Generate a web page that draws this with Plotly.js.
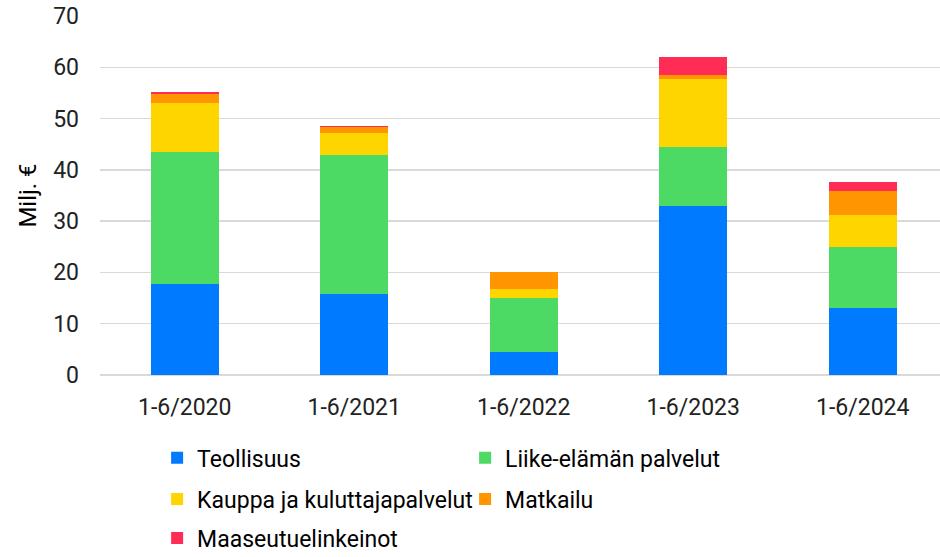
<!DOCTYPE html>
<html>
<head>
<meta charset="utf-8">
<script src="https://cdn.plot.ly/plotly-3.0.1.min.js"></script>
<style>
  body { margin: 0; background: #fff; }
  #chart { width: 940px; height: 557px; }
</style>
</head>
<body>
<div id="chart"></div>
<script>
var periods = ['1-6/2020', '1-6/2021', '1-6/2022', '1-6/2023', '1-6/2024'];

var teollisuus = [17.7, 15.7, 4.4, 33.0, 13.1];
var liike = [25.8, 27.2, 10.7, 11.5, 11.9];
var kauppa = [9.6, 4.3, 1.7, 13.3, 6.2];
var matkailu = [1.7, 1.2, 3.3, 0.7, 4.6];
var maaseutu = [0.3, 0.2, 0, 3.5, 1.9];

var names = ['Teollisuus', 'Liike-elämän palvelut', 'Kauppa ja kuluttajapalvelut', 'Matkailu', 'Maaseutuelinkeinot'];
var colors = ['rgb(0,122,255)', 'rgb(76,217,100)', 'rgb(255,213,0)', 'rgb(255,149,0)', 'rgb(255,45,85)'];
var legends = ['legend', 'legend', 'legend2', 'legend2', 'legend3'];
var series = [teollisuus, liike, kauppa, matkailu, maaseutu];

var data = series.map(function(vals, i){
	return {
		type: 'bar',
		x: periods,
		y: vals,
		name: names[i],
		marker: {color: colors[i]},
		legend: legends[i],
		hoverinfo: 'name+y'
	};
});

// one legend per row, placed by container fraction
function legendAt(y){
	return {
		orientation: 'h',
		traceorder: 'normal',
		x: 0.068, xref: 'paper', xanchor: 'left',
		y: y, yref: 'container', yanchor: 'middle',
		entrywidth: 263, entrywidthmode: 'pixels',
		font: {family: 'Roboto', size: 23, color: '#000'},
		itemwidth: 30,
		bgcolor: 'rgba(0,0,0,0)'
	};
}

var layout = {
	width: 940,
	height: 557,
	barmode: 'stack',
	bargap: 0.6,
	margin: {l: 100, r: 0, t: 16, b: 182},
	paper_bgcolor: '#fff',
	plot_bgcolor: '#fff',
	font: {family: 'Roboto', size: 23, color: '#222'},
	xaxis: {
		range: [-0.5, 4.456],
		showgrid: false,
		showline: false,
		ticks: '',
		ticklabelstandoff: 16,
		tickfont: {family: 'Roboto', size: 23, color: '#222'}
	},
	yaxis: {
		range: [0, 70],
		dtick: 10,
		showline: false,
		gridcolor: '#d9d9d9',
		gridwidth: 1.5,
		zeroline: true,
		zerolinecolor: '#d9d9d9',
		zerolinewidth: 1.5,
		ticks: '',
		ticklabelstandoff: 20,
		tickfont: {family: 'Roboto', size: 23, color: '#222'},
		title: {text: 'Milj. €', font: {family: 'Roboto', size: 24, color: '#000'}, standoff: 9}
	},
	showlegend: true,
	legend: legendAt(0.178),
	legend2: legendAt(0.104),
	legend3: legendAt(0.034)
};

Plotly.newPlot('chart', data, layout, {displayModeBar: false, staticPlot: true});
</script>
</body>
</html>
